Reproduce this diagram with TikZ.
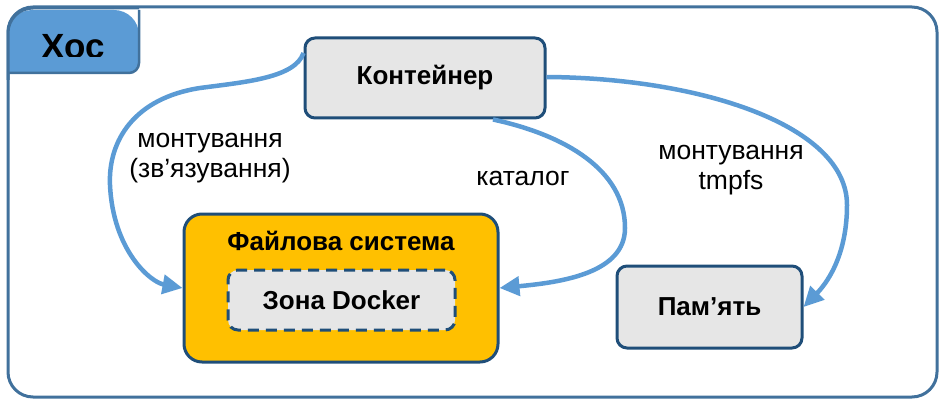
\documentclass[tikz,border=0pt]{standalone}
\usepackage{fontspec}
\setmainfont{Liberation Sans}
\usetikzlibrary{arrows.meta}
\definecolor{tabblue}{HTML}{5B9BD5}
\definecolor{framecol}{HTML}{41719C}
\definecolor{boxborder}{HTML}{1F4E79}
\definecolor{boxgray}{HTML}{E6E6E6}
\definecolor{gold}{HTML}{FFC000}
\definecolor{arrowcol}{HTML}{5B9BD5}
\tikzset{
  graybox/.style={draw=boxborder, line width=3pt, fill=boxgray, rounded corners=10pt, inner sep=0pt, font=\fontsize{26}{30}\selectfont\bfseries},
  fsbox/.style={draw=boxborder, line width=3pt, fill=gold, rounded corners=18pt, inner sep=0pt},
  zonebox/.style={draw=boxborder, line width=3pt, fill=boxgray, rounded corners=10pt, dash pattern=on 11pt off 7pt, inner sep=0pt, font=\fontsize{26}{30}\selectfont\bfseries},
  lbl/.style={align=center, inner sep=0pt, font=\fontsize{26.5}{30}\selectfont},
  conn/.style={draw=arrowcol, line width=4.5pt, -{Triangle[length=20pt,width=19pt]}},
}
\begin{document}
\begin{tikzpicture}[x=1pt,y=-1pt]
\useasboundingbox (0,0) rectangle (939,401);
% outer frame
\draw[framecol, line width=3pt, rounded corners=25pt] (8,7) rectangle (937,397);
% tab
\path[fill=tabblue] (7,73) -- (7,35) [rounded corners=25pt]-- (7,10) -- (139,10) [rounded corners=10pt]-- (139,73) [sharp corners]-- (7,73) -- cycle;
\draw[framecol, line width=2.5pt] (7,73) [rounded corners=10pt]-- (139,73) -- (139,10);
\draw[framecol, line width=3pt, rounded corners=25pt] (8,80) -- (8,8) -- (139,8);
\begin{scope}
  \clip (7,10) rectangle (139,57);
  \node[anchor=base, inner sep=0pt, font=\fontsize{35}{40}\selectfont\bfseries] (hos) at (73,59) {Хос};
\end{scope}
% nodes
\node[graybox, minimum width=240pt, minimum height=80pt] (cont) at (425,78) {Контейнер};
\node[fsbox, minimum width=314pt, minimum height=148pt] (fs) at (341,288) {};
\node[inner sep=0pt, font=\fontsize{26}{30}\selectfont\bfseries] (fstitle) at (341,241) {Файлова система};
\node[zonebox, minimum width=227pt, minimum height=60pt] (dz) at (341.5,300) {Зона Docker};
\node[graybox, minimum width=185pt, minimum height=82pt] (mem) at (709.5,307) {Пам’ять};
% connectors
\draw[conn] ([yshift=25pt]cont.west) .. controls (295,78) and (245,82) .. (200,88)
  .. controls (135,98) and (108,140) .. (110,185)
  .. controls (113,250) and (150,282) .. ([yshift=0pt]fs.west);
\draw[conn] ([xshift=68pt]cont.south) .. controls (565,135) and (625,170) .. (625,228)
  .. controls (625,272) and (565,282) .. (fs.east);
\draw[conn] ([yshift=1pt]cont.east) .. controls (700,78) and (847,125) .. (847,205)
  .. controls (847,258) and (825,285) .. (mem.east);
% labels
\node[lbl] (l1) at (210,158) {монтування\\(зв’язування)};
\node[lbl] (l2) at (523,178) {каталог};
\node[lbl] (l3) at (731,170) {монтування\\tmpfs};
\end{tikzpicture}
\end{document}
